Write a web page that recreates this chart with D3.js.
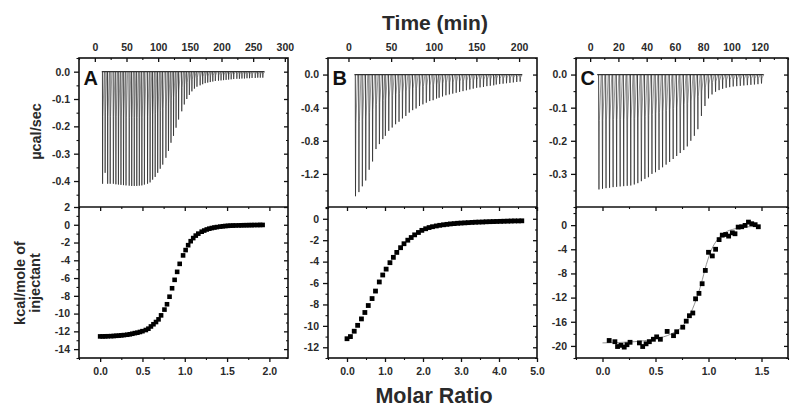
<!DOCTYPE html>
<html><head><meta charset="utf-8">
<script src="https://cdn.jsdelivr.net/npm/d3@7"></script>
<style>
body{margin:0;background:#fff}
svg{display:block}
text{font-family:"Liberation Sans",Arial,sans-serif;font-weight:bold}
</style>
</head><body>
<svg id="c" width="800" height="415"></svg>
<script>
// ---------- DATA ----------
// Raw thermograms: injection times (min) and peak power (µcal/sec)
const timeA = [12,16,20,24,29,33,37,41,45,49,54,58,62,66,70,74,78,83,87,91,95,99,103,107,112,116,120,124,128,132,137,141,145,149,153,157,161,166,170,174,178,182,186,190,195,199,203,207,211,215,219,224,228,232,236,240,244,248,253,257,261,265];
const peakA = [-0.41,-0.37,-0.41,-0.41,-0.41,-0.412,-0.413,-0.414,-0.415,-0.416,-0.417,-0.418,-0.418,-0.418,-0.417,-0.416,-0.413,-0.41,-0.405,-0.395,-0.385,-0.37,-0.355,-0.34,-0.315,-0.29,-0.26,-0.235,-0.205,-0.175,-0.145,-0.12,-0.1,-0.085,-0.072,-0.062,-0.055,-0.05,-0.046,-0.042,-0.04,-0.038,-0.036,-0.034,-0.033,-0.032,-0.031,-0.03,-0.029,-0.028,-0.027,-0.026,-0.026,-0.025,-0.025,-0.024,-0.024,-0.023,-0.023,-0.022,-0.022,-0.022];

const timeB = [8,12,16,20,24,28,32,36,40,43,47,51,55,59,63,67,71,75,79,83,87,91,95,99,103,106,110,114,118,122,126,130,134,138,142,146,150,154,158,162,166,170,173,177,181,185,189,193,197,201];
const peakB = [-1.47,-1.42,-1.35,-1.28,-1.15,-1.05,-0.9,-0.84,-0.78,-0.74,-0.68,-0.64,-0.6,-0.57,-0.53,-0.5,-0.46,-0.43,-0.41,-0.38,-0.36,-0.34,-0.32,-0.31,-0.29,-0.28,-0.265,-0.25,-0.24,-0.23,-0.22,-0.21,-0.2,-0.19,-0.18,-0.17,-0.16,-0.155,-0.15,-0.14,-0.135,-0.13,-0.12,-0.115,-0.11,-0.105,-0.1,-0.095,-0.09,-0.085];

const timeC = [6,8.5,11,13.5,16,18.5,21,23.5,26,28.5,31,33.5,36,38.5,41,43.5,46,48.5,51,53.5,56,58.5,61,63.5,66,68.5,71,73.5,76,78.5,81,83.5,86,88.5,91,93.5,96,98.5,101,103.5,106,108.5,111,113.5,116,118.5,121];
const peakC = [-0.347,-0.345,-0.343,-0.342,-0.34,-0.339,-0.338,-0.337,-0.336,-0.335,-0.332,-0.328,-0.322,-0.315,-0.31,-0.3,-0.295,-0.288,-0.28,-0.272,-0.264,-0.255,-0.246,-0.237,-0.228,-0.217,-0.2,-0.185,-0.165,-0.125,-0.095,-0.072,-0.06,-0.052,-0.047,-0.043,-0.04,-0.038,-0.036,-0.035,-0.034,-0.033,-0.032,-0.031,-0.03,-0.029,-0.027];

// Integrated heats: molar ratio and kcal/mole of injectant
const ratioA = [0.00,0.03,0.06,0.09,0.13,0.16,0.19,0.22,0.25,0.28,0.32,0.35,0.38,0.41,0.44,0.47,0.50,0.54,0.57,0.60,0.63,0.66,0.69,0.72,0.76,0.79,0.82,0.85,0.88,0.91,0.94,0.98,1.01,1.04,1.07,1.10,1.13,1.16,1.20,1.23,1.26,1.29,1.32,1.35,1.38,1.42,1.45,1.48,1.51,1.54,1.57,1.60,1.64,1.67,1.70,1.73,1.76,1.79,1.82,1.86,1.89,1.92];
const heatA = [-12.57,-12.57,-12.56,-12.55,-12.54,-12.52,-12.5,-12.48,-12.45,-12.42,-12.38,-12.33,-12.27,-12.2,-12.15,-12.07,-11.98,-11.85,-11.7,-11.45,-11.2,-10.95,-10.65,-10.2,-9.55,-8.95,-8.1,-7.15,-6.2,-5.3,-4.4,-3.45,-2.85,-2.3,-1.85,-1.5,-1.22,-1.0,-0.78,-0.65,-0.53,-0.44,-0.37,-0.31,-0.26,-0.21,-0.17,-0.14,-0.12,-0.1,-0.09,-0.08,-0.07,-0.06,-0.05,-0.05,-0.04,-0.04,-0.03,-0.03,-0.02,-0.02];

const ratioB = [0.00,0.09,0.19,0.28,0.38,0.47,0.56,0.66,0.75,0.85,0.94,1.03,1.13,1.22,1.31,1.41,1.50,1.60,1.69,1.78,1.88,1.97,2.07,2.16,2.25,2.35,2.44,2.54,2.63,2.72,2.82,2.91,3.00,3.10,3.19,3.29,3.38,3.47,3.57,3.66,3.76,3.85,3.94,4.04,4.13,4.23,4.32,4.41,4.51,4.60];
const heatB = [-11.2,-11.0,-10.5,-9.95,-9.35,-8.75,-8.1,-7.45,-6.75,-5.9,-5.25,-4.7,-4.1,-3.6,-3.14,-2.7,-2.33,-2.0,-1.75,-1.5,-1.28,-1.08,-0.93,-0.82,-0.74,-0.67,-0.61,-0.56,-0.52,-0.48,-0.45,-0.42,-0.4,-0.38,-0.36,-0.34,-0.32,-0.31,-0.3,-0.28,-0.27,-0.26,-0.25,-0.24,-0.23,-0.22,-0.21,-0.2,-0.2,-0.19];

const ratioC = [0.063,0.117,0.142,0.174,0.205,0.231,0.26,0.348,0.379,0.411,0.442,0.48,0.511,0.546,0.61,0.67,0.70,0.757,0.79,0.82,0.852,0.878,0.91,0.94,0.97,1.0,1.036,1.067,1.1,1.13,1.162,1.19,1.225,1.25,1.28,1.313,1.345,1.377,1.408,1.44,1.47];
const heatC = [-19.1,-19.3,-20.1,-19.9,-20.2,-19.8,-19.4,-19.5,-20.1,-19.65,-19.3,-18.9,-18.5,-18.9,-17.6,-18.3,-17.65,-16.9,-15.9,-15.0,-14.55,-12.2,-11.3,-9.7,-7.5,-4.5,-5.1,-4.0,-2.4,-1.66,-1.55,-1.82,-1.27,-1.43,-0.33,-0.27,-0.05,0.5,0.23,0.07,-0.27];
const fitRatioC = [0.0,0.3,0.5,0.65,0.75,0.82,0.88,0.93,0.98,1.03,1.08,1.15,1.25,1.35,1.48];
const fitHeatC = [-19.5,-19.3,-18.8,-18.0,-16.8,-15.0,-12.5,-9.8,-6.5,-4.0,-2.5,-1.3,-0.6,-0.3,-0.2];

// Tick labels
const timeTicksA = [0,50,100,150,200,250,300];
const timeTicksB = [0,50,100,150,200];
const timeTicksC = [0,20,40,60,80,100,120];
const powerTicksA = [0,-0.1,-0.2,-0.3,-0.4];
const powerTicksB = [0,-0.4,-0.8,-1.2];
const powerTicksC = [0,-0.1,-0.2,-0.3];
const heatTicksA = [2,0,-2,-4,-6,-8,-10,-12,-14];
const heatTicksB = [0,-2,-4,-6,-8,-10,-12];
const heatTicksC = [0,-4,-8,-12,-16,-20];
const ratioTicksA = [0,0.5,1,1.5,2];
const ratioTicksB = [0,1,2,3,4,5];
const ratioTicksC = [0,0.5,1,1.5];
const panelLetters = ["A","B","C"];

// ---------- LAYOUT ----------
const Y0 = 58, YM = 207, Y1 = 358;
const panels = [
  {x0:79, x1:288, tDom:[-25,305], tStep:25, pDom:[-0.495,0.05], pStep:0.05, hDom:[-15,2], hStep:1, rDom:[-0.25,2.22], rStep:0.25,
   time:timeA, peak:peakA, ratio:ratioA, heat:heatA, tT:timeTicksA, pT:powerTicksA, hT:heatTicksA, rT:ratioTicksA, dur:2.8, ms:4.6,
   rFmt:".1f", letter:panelLetters[0]},
  {x0:328, x1:537, tDom:[-24,221], tStep:25, pDom:[-1.6,0.2], pStep:0.2, hDom:[-13,1.1], hStep:1, rDom:[-0.5,5.0], rStep:0.5,
   time:timeB, peak:peakB, ratio:ratioB, heat:heatB, tT:timeTicksB, pT:powerTicksB, hT:heatTicksB, rT:ratioTicksB, dur:2.6, ms:4.8,
   rFmt:".1f", letter:panelLetters[1]},
  {x0:576, x1:788, tDom:[-10,140], tStep:10, pDom:[-0.4,0.05], pStep:0.05, hDom:[-22,3], hStep:2, rDom:[-0.25,1.75], rStep:0.25,
   time:timeC, peak:peakC, ratio:ratioC, heat:heatC, tT:timeTicksC, pT:powerTicksC, hT:heatTicksC, rT:ratioTicksC, dur:1.8, ms:4.8,
   rFmt:".1f", letter:panelLetters[2], fitR:fitRatioC, fitH:fitHeatC}
];

const svg = d3.select("#c");
const fmt = f => d => d3.format(f)(d).replace("\u2212","-");

function minorVals(dom, step, majors){
  const lo = Math.min(dom[0],dom[1]), hi = Math.max(dom[0],dom[1]);
  const out = [];
  for (let k = Math.ceil(lo/step - 1e-9); k*step <= hi + 1e-9; k++){
    const v = +(k*step).toFixed(6);
    if (!majors.some(m => Math.abs(m - v) < step*0.01)) out.push(v);
  }
  return out;
}

function axis(gen, scale, majors, minors, tr, size, pad, f){
  const g = svg.append("g").attr("transform", tr);
  g.call(gen(scale).tickValues(majors).tickSize(size).tickPadding(pad).tickFormat(f ? fmt(f) : () => ""));
  g.select(".domain").remove();
  g.selectAll("line").attr("stroke","#111").attr("stroke-width",1.3);
  g.selectAll("text").attr("font-size",10.5).attr("fill","#2a2a2a").attr("font-family","'Liberation Sans',Arial,sans-serif").attr("font-weight","bold");
  const m = svg.append("g").attr("transform", tr);
  m.call(gen(scale).tickValues(minors).tickSize(size/2).tickFormat(() => ""));
  m.select(".domain").remove();
  m.selectAll("line").attr("stroke","#111").attr("stroke-width",1.1);
}

panels.forEach(p => {
  const xt = d3.scaleLinear().domain(p.tDom).range([p.x0, p.x1]);
  const yp = d3.scaleLinear().domain(p.pDom).range([YM, Y0]);
  const xr = d3.scaleLinear().domain(p.rDom).range([p.x0, p.x1]);
  const yh = d3.scaleLinear().domain(p.hDom).range([Y1, YM]);

  // --- thermogram ---
  const tg = svg.append("g");
  p.time.forEach((t, i) => {
    const pk = p.peak[i];
    tg.append("path")
      .attr("d", d3.line()([[xt(t+0.25), yp(pk)], [xt(t+p.dur*0.3), yp(pk*0.4)], [xt(t+p.dur), yp(0)]]))
      .attr("stroke", "#8a8a8a").attr("stroke-width", 0.9).attr("fill","none");
    tg.append("path")
      .attr("d", d3.line()([[xt(t), yp(0)], [xt(t+0.25), yp(pk)]]))
      .attr("stroke", "#2e2e2e").attr("stroke-width", 0.9).attr("fill","none");
  });
  tg.append("path")
    .attr("d", d3.line()([[xt(p.time[0]-1), yp(0)], [xt(p.time[p.time.length-1]+p.dur), yp(0)]]))
    .attr("stroke","#333").attr("stroke-width",1.2).attr("fill","none");

  // --- integrated heats ---
  if (p.fitR) {
    svg.append("path")
      .attr("d", d3.line().x((d,i)=>xr(p.fitR[i])).y((d,i)=>yh(p.fitH[i])).curve(d3.curveMonotoneX)(p.fitR))
      .attr("stroke","#777").attr("stroke-width",0.8).attr("fill","none");
  }
  svg.append("g").selectAll("rect").data(p.ratio).join("rect")
    .attr("x", (d,i) => xr(d) - p.ms/2)
    .attr("y", (d,i) => yh(p.heat[i]) - p.ms/2)
    .attr("width", p.ms).attr("height", p.ms)
    .attr("fill", "#000");

  // --- axes: top panel ---
  axis(d3.axisTop, xt, p.tT, minorVals(p.tDom, p.tStep, p.tT), `translate(0,${Y0})`, -4, 7, "d");
  axis(d3.axisLeft, yp, p.pT, minorVals(p.pDom, p.pStep, p.pT), `translate(${p.x0},0)`, 5, 4, ".1f");
  axis(d3.axisRight, yp, p.pT, minorVals(p.pDom, p.pStep, p.pT), `translate(${p.x1},0)`, -4, 3, null);
  // --- axes: bottom panel ---
  axis(d3.axisTop, xr, p.rT, minorVals(p.rDom, p.rStep, p.rT), `translate(0,${YM})`, -4, 3, null);
  axis(d3.axisBottom, xr, p.rT, minorVals(p.rDom, p.rStep, p.rT), `translate(0,${Y1})`, 4, 6, p.rFmt);
  axis(d3.axisLeft, yh, p.hT, minorVals(p.hDom, p.hStep, p.hT), `translate(${p.x0},0)`, 5, 4, "d");
  axis(d3.axisRight, yh, p.hT, minorVals(p.hDom, p.hStep, p.hT), `translate(${p.x1},0)`, -4, 3, null);

  // frames
  svg.append("rect").attr("x", p.x0).attr("y", Y0).attr("width", p.x1-p.x0).attr("height", Y1-Y0)
    .attr("fill","none").attr("stroke","#111").attr("stroke-width",1.6);
  svg.append("line").attr("x1", p.x0).attr("x2", p.x1).attr("y1", YM).attr("y2", YM)
    .attr("stroke","#111").attr("stroke-width",1.6);

  // letter
  svg.append("text").attr("x", p.x0 + 4.5).attr("y", 85).attr("font-size", 20).attr("fill","#111").text(p.letter);
});

// titles
svg.append("text").attr("x", 435).attr("y", 30).attr("text-anchor","middle").attr("font-size",21).attr("fill","#2a2a2a").text("Time (min)");
svg.append("text").attr("x", 434).attr("y", 403).attr("text-anchor","middle").attr("font-size",21.5).attr("fill","#2a2a2a").text("Molar Ratio");
svg.append("text").attr("transform","translate(41,131.5) rotate(-90)").attr("text-anchor","middle").attr("font-size",14.5).attr("fill","#2a2a2a").text("\u00b5cal/sec");
const kt = svg.append("text").attr("transform","translate(0,283) rotate(-90)").attr("text-anchor","middle").attr("font-size",14.5).attr("fill","#2a2a2a");
kt.append("tspan").attr("x",0).attr("y",24.5).text("kcal/mole of");
kt.append("tspan").attr("x",0).attr("y",40).text("injectant");
</script>
</body></html>
